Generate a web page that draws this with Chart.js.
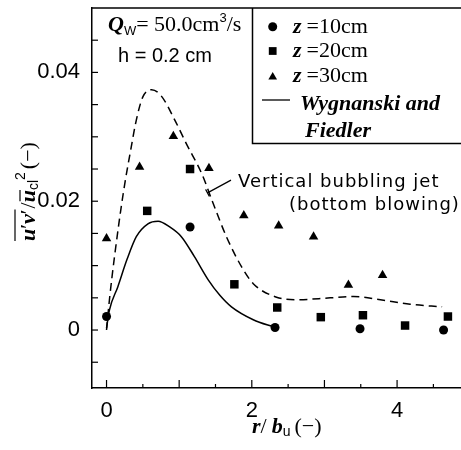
<!DOCTYPE html>
<html>
<head>
<meta charset="utf-8">
<script src="https://cdn.jsdelivr.net/npm/chart.js@4.4.0/dist/chart.umd.min.js"></script>
<style>
    html, body { margin: 0; padding: 0; background: #fff; }
    canvas { display: block; }
</style>
</head>
<body>
<canvas id="chart" width="461" height="450"></canvas>
<script>
// tick labels
const xTickLabels = [0, 2, 4];
const yTickLabels = [0, 0.02, 0.04];

// measured points, z = 10 / 20 / 30 cm
const xZ10 = [0, 1.15, 2.32, 3.49, 4.64];
const yZ10 = [0.0021, 0.0160, 0.0004, 0.0002, 0.0000];
const xZ20 = [0.56, 1.15, 1.76, 2.35, 2.95, 3.53, 4.11, 4.70];
const yZ20 = [0.0185, 0.0250, 0.0071, 0.0035, 0.0020, 0.0023, 0.0007, 0.0021];
const xZ30 = [0, 0.455, 0.92, 1.41, 1.89, 2.37, 2.85, 3.33, 3.80];
const yZ30 = [0.0142, 0.0253, 0.0301, 0.0251, 0.0178, 0.0162, 0.0145, 0.0070, 0.0085];

// Wygnanski and Fiedler (solid)
const xWF = [0, 0.04, 0.155, 0.28, 0.41, 0.57, 0.71, 0.87, 1.03, 1.21, 1.40, 1.56, 1.72, 2.02, 2.32];
const yWF = [0.0003, 0.0031, 0.0067, 0.0109, 0.0145, 0.0165, 0.0169, 0.0160, 0.0145, 0.0114, 0.0078, 0.0054, 0.0036, 0.0016, 0.0004];

// vertical bubbling jet (dashed)
const xVB = [0, 0.04, 0.11, 0.23, 0.34, 0.41, 0.50, 0.62, 0.75, 0.94, 1.10, 1.31, 1.47, 1.65, 1.86, 2.02, 2.34, 2.62, 3.08, 3.40, 3.77, 4.18, 4.62];
const yVB = [0, 0.0047, 0.0114, 0.0212, 0.0284, 0.0326, 0.0362, 0.0373, 0.0364, 0.0326, 0.0289, 0.0243, 0.0196, 0.0145, 0.0098, 0.0072, 0.0051, 0.0047, 0.0050, 0.0052, 0.0047, 0.0040, 0.0036];

const SERIF = '"Liberation Serif", "Times New Roman", serif';
const SANS = '"Liberation Sans", Arial, sans-serif';
const GOTHIC = '"DejaVu Sans", sans-serif';

const pts = (xs, ys) => xs.map((x, i) => ({ x, y: ys[i] }));

// draw a row of text pieces with different fonts, returns the pieces with their x extents
function drawRuns(ctx, x, y, runs) {
    runs.forEach(r => {
        ctx.font = r.f;
        ctx.fillText(r.t, x, y + (r.dy || 0));
        r.x0 = x;
        r.x1 = x + ctx.measureText(r.t).width;
        x = r.x1 + (r.gap || 0);
    });
    return runs;
}

function hline(ctx, x0, x1, y) {
    ctx.beginPath();
    ctx.moveTo(x0, y);
    ctx.lineTo(x1, y);
    ctx.stroke();
}

const decor = {
    id: 'decor',
    afterDraw(chart) {
        const { ctx, chartArea: a, scales: { x, y } } = chart;
        ctx.save();
        ctx.strokeStyle = '#000';
        ctx.fillStyle = '#000';
        ctx.lineWidth = 1.5;

        // top frame
        hline(ctx, a.left, a.right, a.top);

        // inward ticks
        ctx.lineWidth = 1.2;
        for (let v = 0; v <= 4.5; v += 0.5) {
            const px = x.getPixelForValue(v);
            const len = Number.isInteger(v) ? 8 : 4;
            ctx.beginPath();
            ctx.moveTo(px, a.bottom);
            ctx.lineTo(px, a.bottom - len);
            ctx.stroke();
        }
        for (let k = -1; k <= 9; k++) {
            const py = y.getPixelForValue(k * 0.005);
            ctx.beginPath();
            ctx.moveTo(a.left, py);
            ctx.lineTo(a.left + 6, py);
            ctx.stroke();
        }

        ctx.textBaseline = 'alphabetic';
        ctx.textAlign = 'left';

        // Qw and h
        drawRuns(ctx, 108, 31, [
            { t: 'Q', f: `bold italic 22px ${SERIF}` },
            { t: 'W', f: `13px ${SANS}`, dy: 4 },
            { t: '= 50.0cm', f: `22px ${SERIF}` },
            { t: '3', f: `13px ${SANS}`, dy: -9 },
            { t: '/s', f: `22px ${SERIF}` },
        ]);
        ctx.font = `20px ${SANS}`;
        ctx.fillText('h = 0.2 cm', 118, 62);

        // legend box
        ctx.lineWidth = 1.5;
        ctx.beginPath();
        ctx.moveTo(252.5, a.top);
        ctx.lineTo(252.5, 143.5);
        ctx.lineTo(a.right, 143.5);
        ctx.stroke();

        const mx = 272.7;
        Chart.helpers.drawPoint(ctx, { pointStyle: 'circle', radius: 4.5, borderWidth: 0 }, mx, 26.7);
        Chart.helpers.drawPoint(ctx, { pointStyle: 'rect', radius: 5.5, borderWidth: 0 }, mx, 51);
        Chart.helpers.drawPoint(ctx, { pointStyle: 'triangle', radius: 5, borderWidth: 0 }, mx, 77);
        [['=10cm', 33.3], ['=20cm', 57.3], ['=30cm', 81.5]].forEach(([t, by]) => {
            drawRuns(ctx, 293, by, [
                { t: 'z', f: `bold italic 22px ${SERIF}`, gap: 5 },
                { t: t, f: `22px ${SERIF}` },
            ]);
        });
        ctx.lineWidth = 1.3;
        hline(ctx, 262, 290, 100);
        ctx.font = `bold italic 22px ${SERIF}`;
        ctx.fillText('Wygnanski and', 300, 110);
        ctx.fillText('Fiedler', 305, 137);

        // annotation with leader line
        const lx0 = x.getPixelForValue(1.39), ly0 = y.getPixelForValue(0.0213);
        const lx1 = lx0 + 23.5, ly1 = ly0 - 12.7;
        ctx.lineWidth = 1.2;
        ctx.beginPath();
        ctx.moveTo(lx0, ly0);
        ctx.lineTo(lx1, ly1);
        ctx.moveTo(lx0 - 1.9, ly0 - 3.5);
        ctx.lineTo(lx0 + 1.9, ly0 + 3.5);
        ctx.stroke();
        ctx.font = `18px ${GOTHIC}`;
        ctx.letterSpacing = '1px';
        ctx.fillText('Vertical bubbling jet', 238, 187);
        ctx.fillText('(bottom blowing)', 289, 210);
        ctx.letterSpacing = '0px';

        // x title
        drawRuns(ctx, 252, 433, [
            { t: 'r', f: `bold italic 22px ${SERIF}` },
            { t: '/', f: `22px ${SERIF}`, gap: 5 },
            { t: 'b', f: `bold italic 22px ${SERIF}` },
            { t: 'u', f: `14px ${SANS}`, dy: 3, gap: 4 },
            { t: '(\u2212)', f: `22px ${SERIF}` },
        ]);

        // y title (rotated)
        ctx.save();
        ctx.translate(35, 241);
        ctx.rotate(-Math.PI / 2);
        const r = drawRuns(ctx, 0, 0, [
            { t: 'u', f: `bold italic 22px ${SERIF}` },
            { t: '\u2032', f: `22px ${SERIF}` },
            { t: 'v', f: `bold italic 22px ${SERIF}` },
            { t: '\u2032', f: `22px ${SERIF}`, gap: 1 },
            { t: '/', f: `22px ${SERIF}` },
            { t: 'u', f: `bold italic 22px ${SERIF}` },
            { t: 'cl', f: `14px ${SANS}`, dy: 3 },
            { t: '2', f: `14px ${SANS}`, dy: -10, gap: 3 },
            { t: '(\u2212)', f: `22px ${SERIF}` },
        ]);
        ctx.lineWidth = 1.2;
        hline(ctx, r[0].x0, r[3].x1, -20);
        hline(ctx, r[5].x0 + 1, r[5].x1, -15);
        ctx.restore();

        ctx.restore();
    }
};

new Chart(document.getElementById('chart'), {
    type: 'scatter',
    data: {
        datasets: [
            {
                label: 'Vertical bubbling jet',
                data: pts(xVB, yVB),
                showLine: true,
                borderColor: '#000',
                borderWidth: 1.5,
                borderDash: [8, 5],
                pointRadius: 0,
                cubicInterpolationMode: 'monotone',
            },
            {
                label: 'Wygnanski and Fiedler',
                data: pts(xWF, yWF),
                showLine: true,
                borderColor: '#000',
                borderWidth: 1.5,
                pointRadius: 0,
                cubicInterpolationMode: 'monotone',
            },
            {
                label: 'z =10cm',
                data: pts(xZ10, yZ10),
                pointStyle: 'circle',
                pointRadius: 4.5,
                backgroundColor: '#000',
                borderWidth: 0,
            },
            {
                label: 'z =20cm',
                data: pts(xZ20, yZ20),
                pointStyle: 'rect',
                pointRadius: 6,
                backgroundColor: '#000',
                borderWidth: 0,
            },
            {
                label: 'z =30cm',
                data: pts(xZ30, yZ30),
                pointStyle: 'triangle',
                pointRadius: 5.5,
                backgroundColor: '#000',
                borderWidth: 0,
            },
        ]
    },
    options: {
        responsive: false,
        devicePixelRatio: 1,
        animation: false,
        clip: false,
        layout: { autoPadding: false, padding: { top: 8, left: 0, right: 0, bottom: 0 } },
        plugins: {
            legend: { display: false },
            tooltip: { enabled: false },
        },
        scales: {
            x: {
                type: 'linear',
                min: -0.2,
                max: 4.88,
                grid: { display: false, drawTicks: false },
                border: { display: true, color: '#000', width: 1.5 },
                ticks: {
                    color: '#000',
                    padding: 10,
                    maxRotation: 0,
                    autoSkip: false,
                    font: { size: 22, family: SANS },
                },
                afterBuildTicks: s => { s.ticks = xTickLabels.map(v => ({ value: v })); },
                afterFit: s => {
                    s.height = 62;
                    s.paddingLeft = 0;
                    s.paddingRight = 0;
                },
            },
            y: {
                type: 'linear',
                min: -0.009,
                max: 0.05,
                grid: { display: false, drawTicks: false },
                border: { display: true, color: '#000', width: 1.5 },
                ticks: {
                    color: '#000',
                    padding: 12,
                    autoSkip: false,
                    font: { size: 22, family: SANS },
                    callback: v => (v === 0 ? '0' : v.toFixed(2)),
                },
                afterBuildTicks: s => { s.ticks = yTickLabels.map(v => ({ value: v })); },
                afterFit: s => {
                    s.width = 92;
                    s.paddingTop = 0;
                    s.paddingBottom = 0;
                },
            },
        },
    },
    plugins: [decor],
});
</script>
</body>
</html>
